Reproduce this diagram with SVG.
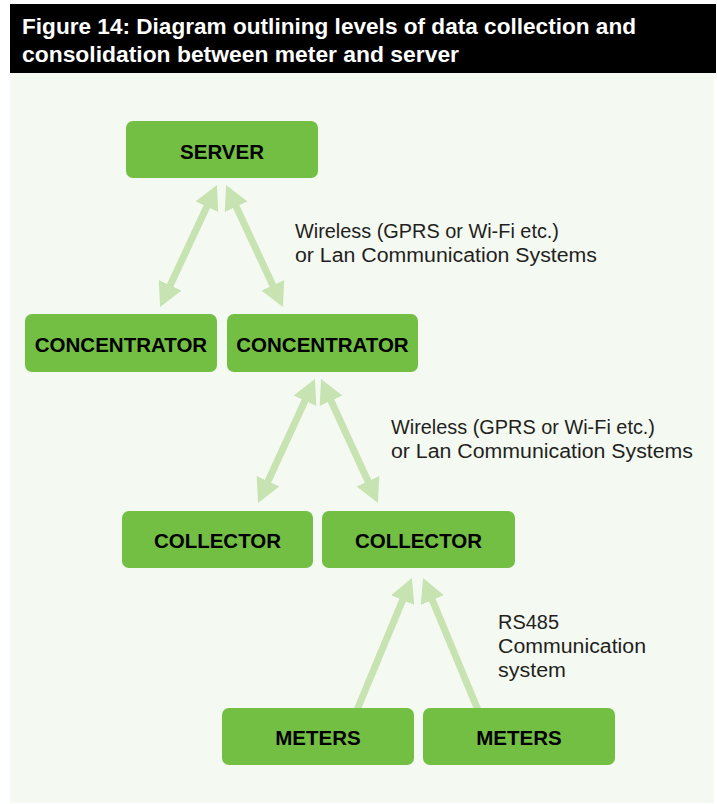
<svg xmlns="http://www.w3.org/2000/svg" width="717" height="804" viewBox="0 0 717 804">
  <style>
    .title { font-family: "Liberation Sans", Arial, sans-serif; font-weight: bold; font-size: 22.5px; fill: #ffffff; }
    .box { fill: #72bf44; }
    .label { font-family: "Liberation Sans", Arial, sans-serif; font-weight: bold; font-size: 20.5px; fill: #000000; text-anchor: middle; }
    .note { font-family: "Liberation Sans", Arial, sans-serif; font-size: 20px; fill: #231f20; }
    .link { fill: none; stroke: #c6e3b1; stroke-width: 7; }
  </style>
  <defs>
    <marker id="head" viewBox="0 0 24 25" refX="4" refY="12.5" markerWidth="24" markerHeight="25" markerUnits="userSpaceOnUse" orient="auto-start-reverse">
      <path d="M0,0 L24,12.5 L0,25 z" fill="#c6e3b1"/>
    </marker>
  </defs>

  <!-- page background and title bar -->
  <rect x="10" y="73" width="704" height="730" fill="#f4f9f2"/>
  <rect x="10" y="4" width="706" height="69" fill="#000000"/>
  <text class="title" x="22" y="34" textLength="614" lengthAdjust="spacingAndGlyphs">Figure 14: Diagram outlining levels of data collection and</text>
  <text class="title" x="22" y="62" textLength="437" lengthAdjust="spacingAndGlyphs">consolidation between meter and server</text>

  <!-- connectors -->
  <g id="connectors">
    <path class="link" d="M208.5,203.1 L168.5,288.9" marker-start="url(#head)" marker-end="url(#head)"/>
    <path class="link" d="M234.5,203.1 L274.5,288.9" marker-start="url(#head)" marker-end="url(#head)"/>
    <path class="link" d="M306.6,397.2 L266.4,484.8" marker-start="url(#head)" marker-end="url(#head)"/>
    <path class="link" d="M329.4,397.2 L369.6,484.8" marker-start="url(#head)" marker-end="url(#head)"/>
    <path class="link" d="M357,710 L404.2,596.4" marker-end="url(#head)"/>
    <path class="link" d="M478,710 L430.8,596.4" marker-end="url(#head)"/>
  </g>

  <!-- link notes -->
  <g id="notes">
    <text class="note" x="295" y="238" textLength="264" lengthAdjust="spacingAndGlyphs">Wireless (GPRS or Wi-Fi etc.)</text>
    <text class="note" x="295" y="262" textLength="302" lengthAdjust="spacingAndGlyphs">or Lan Communication Systems</text>
    <text class="note" x="391" y="434" textLength="264" lengthAdjust="spacingAndGlyphs">Wireless (GPRS or Wi-Fi etc.)</text>
    <text class="note" x="391" y="458" textLength="302" lengthAdjust="spacingAndGlyphs">or Lan Communication Systems</text>
    <text class="note" x="498" y="629" textLength="61" lengthAdjust="spacingAndGlyphs">RS485</text>
    <text class="note" x="498" y="653" textLength="148" lengthAdjust="spacingAndGlyphs">Communication</text>
    <text class="note" x="498" y="677" textLength="68" lengthAdjust="spacingAndGlyphs">system</text>
  </g>

  <!-- nodes -->
  <g id="server">
    <rect class="box" x="126" y="121" width="192" height="57" rx="7"/>
    <text class="label" x="222" y="159">SERVER</text>
  </g>
  <g id="concentrator-1">
    <rect class="box" x="25" y="314" width="192" height="58" rx="7"/>
    <text class="label" x="121" y="352">CONCENTRATOR</text>
  </g>
  <g id="concentrator-2">
    <rect class="box" x="227" y="314" width="191" height="58" rx="7"/>
    <text class="label" x="322.5" y="352">CONCENTRATOR</text>
  </g>
  <g id="collector-1">
    <rect class="box" x="122" y="511" width="191" height="57" rx="7"/>
    <text class="label" x="217.5" y="548">COLLECTOR</text>
  </g>
  <g id="collector-2">
    <rect class="box" x="322" y="511" width="193" height="57" rx="7"/>
    <text class="label" x="418.5" y="548">COLLECTOR</text>
  </g>
  <g id="meters-1">
    <rect class="box" x="222" y="708" width="192" height="57" rx="7"/>
    <text class="label" x="318" y="745">METERS</text>
  </g>
  <g id="meters-2">
    <rect class="box" x="423" y="708" width="192" height="57" rx="7"/>
    <text class="label" x="519" y="745">METERS</text>
  </g>
</svg>
